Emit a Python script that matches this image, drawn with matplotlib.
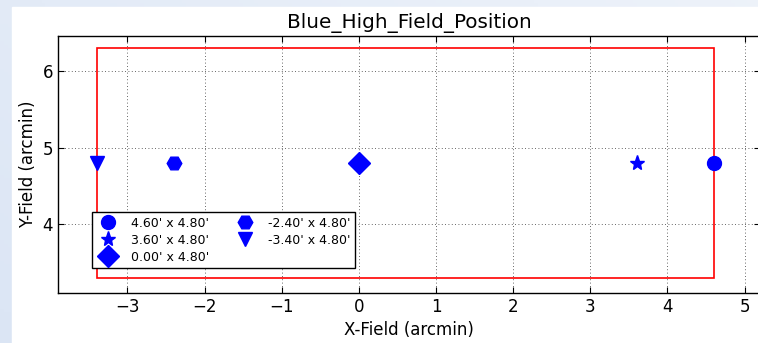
import matplotlib
matplotlib.use("Agg")
import matplotlib.pyplot as plt
import numpy as np
from matplotlib.patches import Rectangle

# Data
x_positions = [4.60, 3.60, 0.00, -2.40, -3.40]
y_positions = [4.80, 4.80, 4.80, 4.80, 4.80]
markers = ['o', '*', 'D', 'H', 'v']
labels = ["4.60' x 4.80'", "3.60' x 4.80'", "0.00' x 4.80'", "-2.40' x 4.80'", "-3.40' x 4.80'"]
field_x = [-3.4, 4.6]
field_y = [3.3, 6.3]
title = "Blue_High_Field_Position"
xlabel = "X-Field (arcmin)"
ylabel = "Y-Field (arcmin)"

plt.rcParams['font.family'] = ['DejaVu Sans']
W, H = 758, 343
fig = plt.figure(figsize=(W / 100, H / 100), dpi=100)

# screenshot-like background gradient
bg = fig.add_axes([0, 0, 1, 1], zorder=-10)
gx = np.linspace(0, 1, 200)
gy = np.linspace(0, 1, 100)
GX, GY = np.meshgrid(gx, gy)
base = np.array([0.86, 0.90, 0.96])
img = np.ones((100, 200, 3)) * base
img = img + (1 - base) * (0.3 * GX[..., None] + 0.2 * (1 - GY[..., None]))
bg.imshow(np.clip(img, 0, 1), aspect='auto', extent=[0, 1, 0, 1])
bg.add_patch(Rectangle((12 / W, 0), 1, (H - 7) / H, color='white', zorder=5))
bg.set_axis_off()

def px(l, t, r, b):
    return [l / W, 1 - b / H, (r - l) / W, (b - t) / H]

ax = fig.add_axes(px(58, 36, 760, 293))
sizes = {'o': 10, '*': 11, 'D': 11, 'H': 10.5, 'v': 10.5}
for xv, yv, m, lab in zip(x_positions, y_positions, markers, labels):
    ax.plot([xv], [yv], linestyle='none', marker=m, color='blue', markeredgecolor='blue',
            markersize=sizes[m], label=lab)

ax.add_patch(Rectangle((field_x[0], field_y[0]), field_x[1] - field_x[0], field_y[1] - field_y[0],
                       fill=False, edgecolor='red', linewidth=1.2))

ax.set_xlim(-3.9, 5.2)
ax.set_ylim(3.1, 6.46)
ax.set_xticks([-3, -2, -1, 0, 1, 2, 3, 4, 5])
ax.set_yticks([4, 5, 6])
ax.grid(True, color='black', linestyle=(0, (1, 3)), linewidth=0.6, alpha=0.8)
ax.tick_params(direction='in', top=True, right=True, labelsize=12, length=4)
ax.set_title(title, fontsize=14.4)
ax.set_xlabel(xlabel, fontsize=12)
ax.set_ylabel(ylabel, fontsize=12)
for s in ax.spines.values():
    s.set_linewidth(1.0)

leg = ax.legend(loc='lower left', bbox_to_anchor=(0.048, 0.097), borderaxespad=0,
                ncol=2, numpoints=1, fontsize=9, fancybox=False, framealpha=1,
                edgecolor='black', handlelength=1.9, handletextpad=0.9,
                columnspacing=1.9, labelspacing=0.32, borderpad=0.35)
leg.get_frame().set_linewidth(1.0)

fig.savefig('out.png', dpi=100)
